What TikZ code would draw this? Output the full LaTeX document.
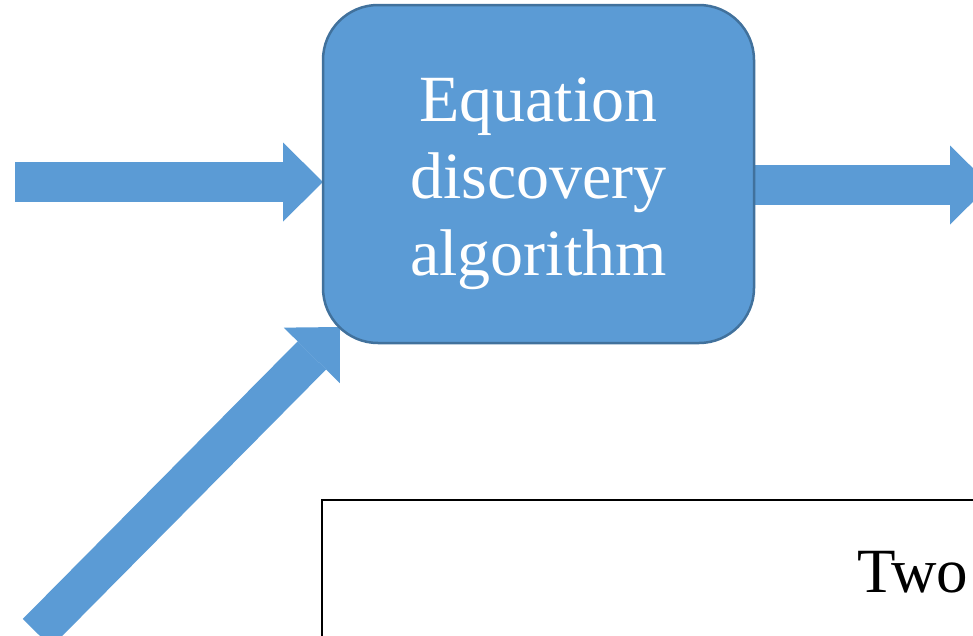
\documentclass[tikz,border=0pt]{standalone}
\usepackage{fontspec}
\setmainfont{Liberation Serif}
\usetikzlibrary{positioning,calc,arrows.meta,backgrounds}
\definecolor{boxblue}{HTML}{5B9BD5}
\definecolor{boxedge}{HTML}{41719C}

\begin{document}
\begin{tikzpicture}[x=1pt,y=-1pt]
                    \tikzstyle{every node}=[inner sep=0,outer sep=0]
                    \tikzstyle{algo}=[draw=boxedge,fill=boxblue,line width=2.5pt,rounded corners=55pt,minimum width=431pt,minimum height=338pt,text=white,align=center,font=\fontsize{66}{77}\selectfont]
                    \tikzstyle{panel}=[draw=black,line width=2pt,minimum width=700pt,minimum height=200pt,anchor=north west]
                    \tikzstyle{flow}=[draw=boxblue,line width=40pt,-{Triangle[width=79pt,length=40pt,line width=0pt]}]
                    {
                        \useasboundingbox (0,0) rectangle (973,635);
                        \clip (0,0) rectangle (973,635);

                        \node[algo] (algo) at (538.5,174) {\rule{0pt}{63pt}Equation\\discovery\\algorithm\rule[-15pt]{0pt}{15pt}};
                        \node[panel] (panel) at (322,500) {};
                        \node[anchor=base west,font=\fontsize{63}{72}\selectfont] (two) at (857,592) {Two};

                        \coordinate (in1) at (15,182);
                        \coordinate (in2) at (37,633);
                        \coordinate (out) at (990,185);

                        \begin{scope}[on background layer]
                            \clip (0,0) rectangle (973,635);
                            \draw[flow] (in1) -- (in1 -| algo.west);
                            \draw[flow] (in2) -- ($(algo.south west)+(17,-16)$);
                            \draw[flow] (algo.east |- out) -- (out);
                        \end{scope}
                    }
\end{tikzpicture}
\end{document}
